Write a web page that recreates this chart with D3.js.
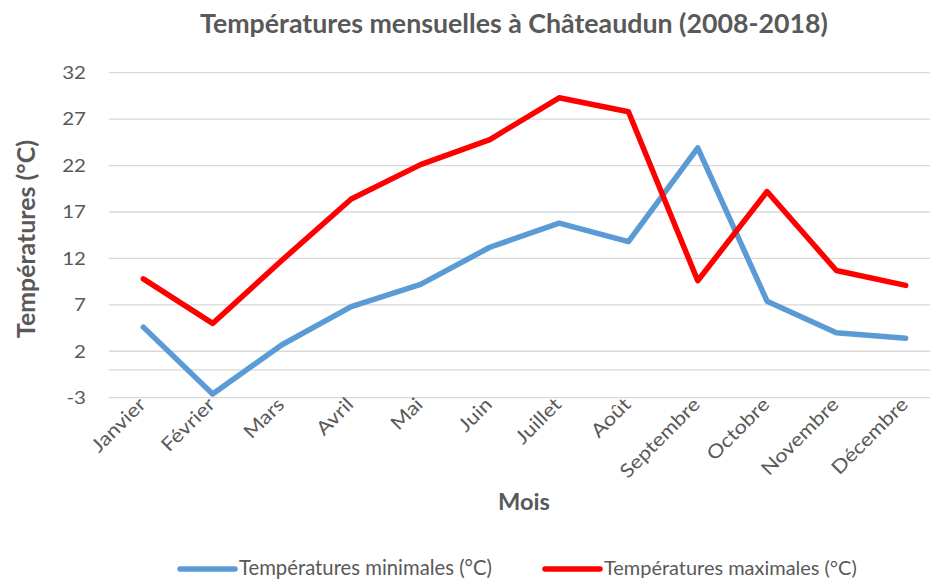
<!DOCTYPE html>
<html>
<head>
<meta charset="utf-8">
<script src="https://cdn.jsdelivr.net/npm/d3@7"></script>
<style>
  html, body { margin: 0; padding: 0; background: #fff; }
  svg { display: block; }
  text { font-family: Lato, "Open Sans", sans-serif; fill: #595959; }
</style>
</head>
<body>
<svg id="chart" width="930" height="579"></svg>
<script>
const months = ["Janvier","Février","Mars","Avril","Mai","Juin","Juillet","Août","Septembre","Octobre","Novembre","Décembre"];
const tMin = [4.6, -2.6, 2.7, 6.8, 9.2, 13.2, 15.8, 13.8, 23.9, 7.4, 4.0, 3.4];
const tMax = [9.8, 5.0, 11.8, 18.4, 22.1, 24.8, 29.3, 27.8, 9.6, 19.2, 10.7, 9.1];
const yTicks = [-3, 2, 7, 12, 17, 22, 27, 32];
const seriesNames = ["Températures minimales (°C)", "Températures maximales (°C)"];
const colors = ["#5B9BD5", "#FF0000"];

const svg = d3.select("#chart");

const x = d3.scalePoint().domain(months).range([108.7, 940.3]).padding(0.5);
const y = d3.scaleLinear().domain([-3, 32]).range([397.7, 72.7]);

function fit(sel, w) {
  const n = sel.node();
  const fs = parseFloat(sel.attr("font-size"));
  const cw = n.getComputedTextLength();
  sel.attr("font-size", (fs * w / cw).toFixed(2));
}

// gridlines (plus horizontal axis line at 0)
svg.append("g").selectAll("line").data(yTicks.concat([0])).join("line")
  .attr("x1", 108.7).attr("x2", 940.3)
  .attr("y1", d => y(d)).attr("y2", d => y(d))
  .attr("stroke", "#D9D9D9").attr("stroke-width", 1.3);

// y axis labels
const yAxis = d3.axisLeft(y).tickValues(yTicks).tickSize(0).tickPadding(0).tickFormat(d => String(d));
const gy = svg.append("g").attr("transform", "translate(86,0)").call(yAxis);
gy.select(".domain").remove();
gy.selectAll("text").attr("font-size", 18).attr("fill", "#595959")
  .style("font-family", "Lato, 'Open Sans', sans-serif")
  .attr("x", 0).attr("transform", "scale(1.14,1)");

// x axis labels
const xAxis = d3.axisBottom(x).tickSize(0).tickPadding(0);
const gx = svg.append("g").attr("transform", "translate(0,397.7)").call(xAxis);
gx.select(".domain").remove();
gx.selectAll("text")
  .attr("font-size", 19).attr("fill", "#595959")
  .style("font-family", "Lato, 'Open Sans', sans-serif")
  .attr("text-anchor", "end")
  .attr("dy", null).attr("y", 0)
  .attr("transform", "translate(3,8) rotate(-45) scale(1.15,1)");

// lines
const line = d3.line().x((d, i) => x(months[i])).y(d => y(d));
[tMin, tMax].forEach((s, k) => {
  svg.append("path").datum(s)
    .attr("d", line)
    .attr("fill", "none")
    .attr("stroke", colors[k])
    .attr("stroke-width", 5.5)
    .attr("stroke-linejoin", "round")
    .attr("stroke-linecap", "round");
});

// title
const title = svg.append("text").attr("x", 514).attr("y", 33)
  .attr("text-anchor", "middle").attr("font-size", 21).attr("font-weight", "bold")
  .text("Températures mensuelles à Châteaudun (2008-2018)");
fit(title, 628);

// y title
const yt = svg.append("text").attr("transform", "translate(35,239) rotate(-90)")
  .attr("text-anchor", "middle").attr("font-size", 20).attr("font-weight", "bold")
  .text("Températures (°C)");
fit(yt, 198);

// x title
const xt = svg.append("text").attr("x", 524).attr("y", 510)
  .attr("text-anchor", "middle").attr("font-size", 20).attr("font-weight", "bold")
  .text("Mois");
fit(xt, 52);

// legend
const legX = [180, 545];
seriesNames.forEach((nm, k) => {
  svg.append("line").attr("x1", legX[k]).attr("x2", legX[k] + 55)
    .attr("y1", 569).attr("y2", 569)
    .attr("stroke", colors[k]).attr("stroke-width", 5.5).attr("stroke-linecap", "round");
  const t = svg.append("text").attr("x", legX[k] + 59).attr("y", 575)
    .attr("font-size", 18).text(nm);
  fit(t, 253);
});
</script>
</body>
</html>
